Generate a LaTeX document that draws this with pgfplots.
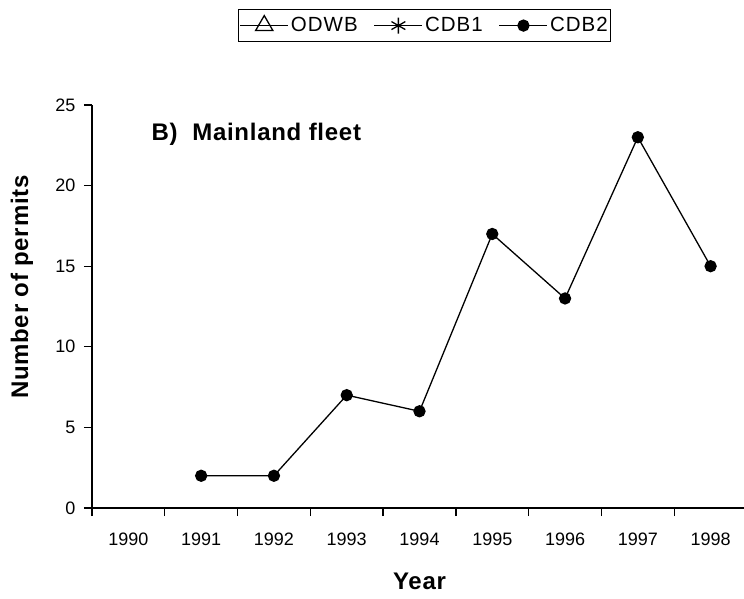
\documentclass[border=0pt]{standalone}
\usepackage{fontspec}
\setmainfont{Liberation Sans}
\newfontfamily\lbl[LetterSpace=3]{Liberation Sans}
\newfontfamily\lgd[LetterSpace=5]{Liberation Sans}
\usepackage{pgfplots}
\pgfplotsset{compat=1.18}

\begin{document}
\begin{tikzpicture}
\path[use as bounding box] (-92pt,-90pt) rectangle (652pt,508pt);
\begin{axis}[
	width=655pt, height=403pt, scale only axis,
	xmin=0, xmax=9, ymin=0, ymax=25,
	axis lines*=left,
	axis line style={line width=1.3pt},
	tick align=outside,
	major tick length=8pt,
	every tick/.style={line width=1.3pt, black},
	xtick={0,...,9}, xticklabels={},
	extra x ticks={0.5,1.5,2.5,3.5,4.5,5.5,6.5,7.5,8.5},
	extra x tick labels={1990,1991,1992,1993,1994,1995,1996,1997,1998},
	extra x tick style={major tick length=0pt},
	ytick={0,5,10,15,20,25},
	/pgf/number format/assume math mode=true,
	ticklabel style={font=\fontsize{18}{21}\selectfont},
	xticklabel style={yshift=-21pt},
	yticklabel style={xshift=-5pt},
	xlabel={Year},
	ylabel={Number of permits},
	label style={font=\lbl\bfseries\fontsize{24}{28}\selectfont},
	xlabel style={at={(axis description cs:0.5,-0.181)}, anchor=center},
	ylabel style={at={(axis description cs:-0.107,0.548)}, anchor=center},
	legend style={at={(axis description cs:0.508,1.238)}, anchor=north,
		legend columns=3, draw=black, line width=1pt,
		inner xsep=1pt, inner ysep=6pt,
		font=\lgd\fontsize{20.5}{24}\selectfont,
		/tikz/every odd column/.append style={column sep=0pt},
		/tikz/every even column/.append style={column sep=14pt}},
	legend image code/.code={
		\draw[mark repeat=2,mark phase=2,#1] plot coordinates {(0pt,0pt) (24pt,0pt) (48pt,0pt)};},
	clip=false,
]
\addlegendimage{black, line width=1.3pt, mark=triangle, mark size=10pt, mark options={fill=white}}
\addlegendentry{ODWB}
\addlegendimage{black, line width=1.3pt, mark=asterisk, mark size=8pt}
\addlegendentry{CDB1}
\addplot[black, line width=1.3pt, mark=*, mark size=5.5pt]
	coordinates {
	(1.5,2)(2.5,2)(3.5,7)(4.5,6)(5.5,17)(6.5,13)(7.5,23)(8.5,15)
	};
\addlegendentry{CDB2}
\node[anchor=west, font=\lbl\bfseries\fontsize{24}{28}\selectfont]
	at (rel axis cs:0.0855,0.928) {B)\ \ Mainland fleet};
\end{axis}
\end{tikzpicture}
\end{document}
